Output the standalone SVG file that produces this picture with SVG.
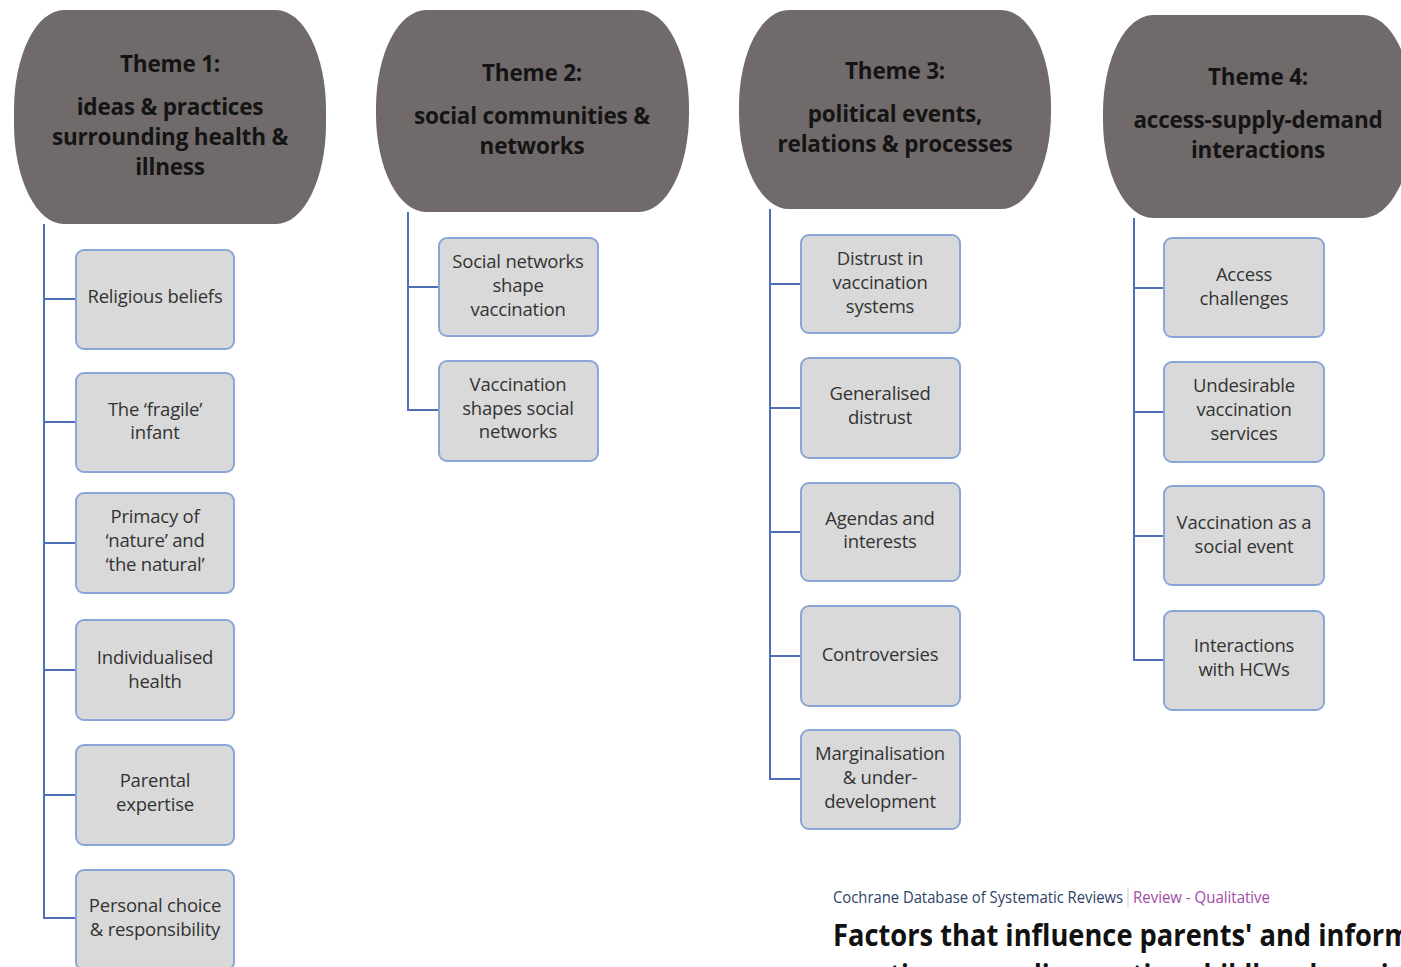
<svg xmlns="http://www.w3.org/2000/svg" width="1401" height="967" viewBox="0 0 1401 967">
<style>
.theme{fill:#706a6a;}
.tt{font-family:"Open Sans",Lato,sans-serif;font-weight:bold;font-size:22.5px;fill:#141414;text-anchor:middle;letter-spacing:-0.2px;}
.box{fill:#d9d9d9;stroke:#8aa6d8;stroke-width:2;}
.bt{font-family:"Open Sans",Lato,sans-serif;font-size:18.5px;fill:#333;text-anchor:middle;letter-spacing:-0.2px;}
.conn{fill:none;stroke:#4f6fb8;stroke-width:2;}
</style>
<rect width="1401" height="967" fill="#fff"/>
<g id="connectors">
<path class="conn" d="M44 224V918H76M44 299H76M44 422H76M44 543H76M44 670H76M44 795H76"/>
<path class="conn" d="M408 212V410H439M408 287H439"/>
<path class="conn" d="M770 209V779H801M770 284H801M770 408H801M770 532H801M770 656H801"/>
<path class="conn" d="M1134 218V660H1164M1134 288H1164M1134 412H1164M1134 536H1164"/>
</g>
<g id="theme1"><rect class="theme" x="14" y="10" width="312" height="214" rx="50" ry="100"/>
<text class="tt" x="170" y="72">Theme 1:</text><text class="tt" x="170" y="115">ideas &amp; practices</text><text class="tt" x="170" y="145">surrounding health &amp;</text><text class="tt" x="170" y="175">illness</text></g>
<g id="theme2"><rect class="theme" x="376" y="10" width="313" height="202" rx="50" ry="98"/>
<text class="tt" x="532" y="81">Theme 2:</text><text class="tt" x="532" y="124">social communities &amp;</text><text class="tt" x="532" y="154">networks</text></g>
<g id="theme3"><rect class="theme" x="739" y="10" width="312" height="199" rx="50" ry="96"/>
<text class="tt" x="895" y="79">Theme 3:</text><text class="tt" x="895" y="122">political events,</text><text class="tt" x="895" y="152">relations &amp; processes</text></g>
<g id="theme4"><rect class="theme" x="1103" y="15" width="310" height="203" rx="50" ry="98"/>
<text class="tt" x="1258" y="85">Theme 4:</text><text class="tt" x="1258" y="128">access-supply-demand</text><text class="tt" x="1258" y="158">interactions</text></g>

<g id="n-religious"><rect class="box" x="76" y="250" width="158" height="99" rx="8"/><text class="bt" x="155" y="303">Religious beliefs</text></g>
<g id="n-fragile"><rect class="box" x="76" y="373" width="158" height="99" rx="8"/><text class="bt" x="155" y="416">The ‘fragile’</text><text class="bt" x="155" y="439">infant</text></g>
<g id="n-primacy"><rect class="box" x="76" y="493" width="158" height="100" rx="8"/><text class="bt" x="155" y="523">Primacy of</text><text class="bt" x="155" y="547">‘nature’ and</text><text class="bt" x="155" y="571">‘the natural’</text></g>
<g id="n-individualised"><rect class="box" x="76" y="620" width="158" height="100" rx="8"/><text class="bt" x="155" y="664">Individualised</text><text class="bt" x="155" y="688">health</text></g>
<g id="n-parental"><rect class="box" x="76" y="745" width="158" height="100" rx="8"/><text class="bt" x="155" y="787">Parental</text><text class="bt" x="155" y="811">expertise</text></g>
<g id="n-personal"><rect class="box" x="76" y="870" width="158" height="100" rx="8"/><text class="bt" x="155" y="912">Personal choice</text><text class="bt" x="155" y="936">&amp; responsibility</text></g>

<g id="n-socialnet"><rect class="box" x="439" y="238" width="159" height="98" rx="8"/><text class="bt" x="518" y="268">Social networks</text><text class="bt" x="518" y="292">shape</text><text class="bt" x="518" y="316">vaccination</text></g>
<g id="n-vaccshapes"><rect class="box" x="439" y="361" width="159" height="100" rx="8"/><text class="bt" x="518" y="391">Vaccination</text><text class="bt" x="518" y="415">shapes social</text><text class="bt" x="518" y="438">networks</text></g>

<g id="n-distrustvacc"><rect class="box" x="801" y="235" width="159" height="98" rx="8"/><text class="bt" x="880" y="265">Distrust in</text><text class="bt" x="880" y="289">vaccination</text><text class="bt" x="880" y="313">systems</text></g>
<g id="n-generalised"><rect class="box" x="801" y="358" width="159" height="100" rx="8"/><text class="bt" x="880" y="400">Generalised</text><text class="bt" x="880" y="424">distrust</text></g>
<g id="n-agendas"><rect class="box" x="801" y="483" width="159" height="98" rx="8"/><text class="bt" x="880" y="525">Agendas and</text><text class="bt" x="880" y="548">interests</text></g>
<g id="n-controversies"><rect class="box" x="801" y="606" width="159" height="100" rx="8"/><text class="bt" x="880" y="661">Controversies</text></g>
<g id="n-marginal"><rect class="box" x="801" y="730" width="159" height="99" rx="8"/><text class="bt" x="880" y="760">Marginalisation</text><text class="bt" x="880" y="784">&amp; under-</text><text class="bt" x="880" y="808">development</text></g>

<g id="n-access"><rect class="box" x="1164" y="238" width="160" height="99" rx="8"/><text class="bt" x="1244" y="281">Access</text><text class="bt" x="1244" y="305">challenges</text></g>
<g id="n-undesirable"><rect class="box" x="1164" y="362" width="160" height="100" rx="8"/><text class="bt" x="1244" y="392">Undesirable</text><text class="bt" x="1244" y="416">vaccination</text><text class="bt" x="1244" y="440">services</text></g>
<g id="n-socialevent"><rect class="box" x="1164" y="486" width="160" height="99" rx="8"/><text class="bt" x="1244" y="529">Vaccination as a</text><text class="bt" x="1244" y="553">social event</text></g>
<g id="n-hcw"><rect class="box" x="1164" y="611" width="160" height="99" rx="8"/><text class="bt" x="1244" y="652">Interactions</text><text class="bt" x="1244" y="676">with HCWs</text></g>

<g id="caption">
<text x="833" y="903" font-family="'Open Sans',Lato,sans-serif" font-size="16" fill="#2e3f66" textLength="290" lengthAdjust="spacingAndGlyphs">Cochrane Database of Systematic Reviews</text>
<line x1="1128" y1="887" x2="1128" y2="908" stroke="#cfcfcf" stroke-width="1"/>
<text x="1133" y="903" font-family="'Open Sans',Lato,sans-serif" font-size="16" fill="#a24aa6" textLength="137" lengthAdjust="spacingAndGlyphs">Review - Qualitative</text>
<text x="833" y="946" font-family="'Open Sans',Lato,sans-serif" font-weight="bold" font-size="30" fill="#111" textLength="578" lengthAdjust="spacingAndGlyphs">Factors that influence parents' and inform</text>
<text x="833" y="986" font-family="'Open Sans',Lato,sans-serif" font-weight="bold" font-size="30" fill="#111" textLength="640" lengthAdjust="spacingAndGlyphs">practices regarding routine childhood vaccination</text>
</g>
</svg>
